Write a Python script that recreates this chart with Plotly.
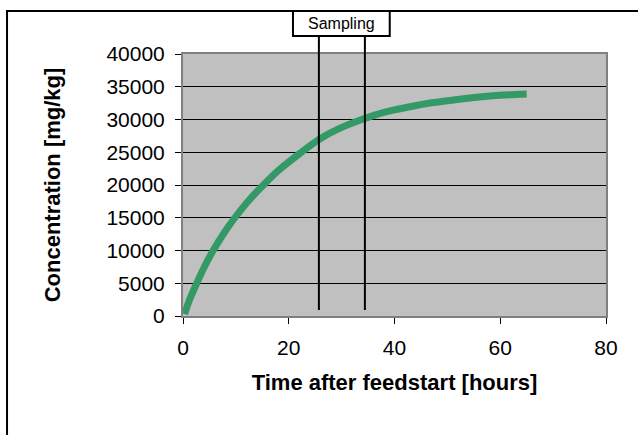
import plotly.graph_objects as go

hours = [0.3, 1.2, 2.6, 4.1, 5.7, 7.7, 9.8, 12.4, 15.2, 18.6, 22.4, 25.7, 29.5,
         33.8, 38.0, 42.9, 47.0, 51.1, 55.0, 58.7, 62.0, 65.0]
concentration = [300, 2400, 5000, 7600, 10000, 12600, 15000, 17600, 20000, 22600,
                 25000, 26950, 28600, 30000, 31100, 31950, 32550, 32980, 33350,
                 33630, 33780, 33880]
sampling_times = [25.7, 34.4]
sampling_label = "Sampling"
x_ticks = [0, 20, 40, 60, 80]
y_ticks = [0, 5000, 10000, 15000, 20000, 25000, 30000, 35000, 40000]

fig = go.Figure()
fig.add_trace(go.Scatter(
    x=hours, y=concentration, mode="lines",
    line=dict(color="#339966", width=7, shape="spline", smoothing=0.8),
    showlegend=False, hoverinfo="x+y",
))

shapes = []
# outer chart frame (clipped by page edges)
shapes.append(dict(type="rect", xref="paper", yref="paper",
                   x0=-0.416, x1=1.3, y0=-0.7, y1=1.164,
                   line=dict(color="black", width=2), layer="below"))
for t in sampling_times:
    shapes.append(dict(type="line", xref="x", yref="paper", x0=t, x1=t,
                       y0=0.023, y1=1.069, line=dict(color="black", width=2)))
shapes.append(dict(type="rect", xref="x", yref="paper",
                   x0=20.8, x1=39.1, y0=1.069, y1=1.164,
                   line=dict(color="black", width=2), fillcolor="white",
                   layer="below"))

fig.update_layout(
    width=638, height=435,
    margin=dict(l=183, r=32, t=54, b=119),
    paper_bgcolor="white", plot_bgcolor="#C0C0C0",
    font=dict(family="Liberation Sans, Arial, sans-serif", color="black"),
    shapes=shapes,
    annotations=[dict(text=sampling_label, xref="x", yref="paper",
                      x=(20.8 + 39.1) / 2, y=1.1165, xanchor="center",
                      yanchor="middle", showarrow=False,
                      font=dict(size=16, color="black"))],
    xaxis=dict(range=[0, 80], tickvals=x_ticks, ticks="outside", ticklen=6,
               tickcolor="black", tickfont=dict(size=21), showgrid=False,
               zeroline=False, showline=True, linecolor="#808080", linewidth=2,
               mirror=True, ticklabelstandoff=6,
               title=dict(text="<b>Time after feedstart [hours]</b>",
                          font=dict(size=22), standoff=16)),
    yaxis=dict(range=[0, 40000], tickvals=y_ticks, tickformat="d",
               ticks="outside", ticklen=6, ticklabelstandoff=6,
               tickcolor="black", tickfont=dict(size=21), showgrid=True,
               gridcolor="black", gridwidth=1, zeroline=False, showline=True,
               linecolor="#808080", linewidth=2, mirror=True,
               title=dict(text="<b>Concentration [mg/kg]</b>",
                          font=dict(size=22), standoff=40)),
)

fig.write_html("out.html", config={"displayModeBar": False},
               post_script="document.body.style.margin='0';document.body.style.overflow='hidden';")
